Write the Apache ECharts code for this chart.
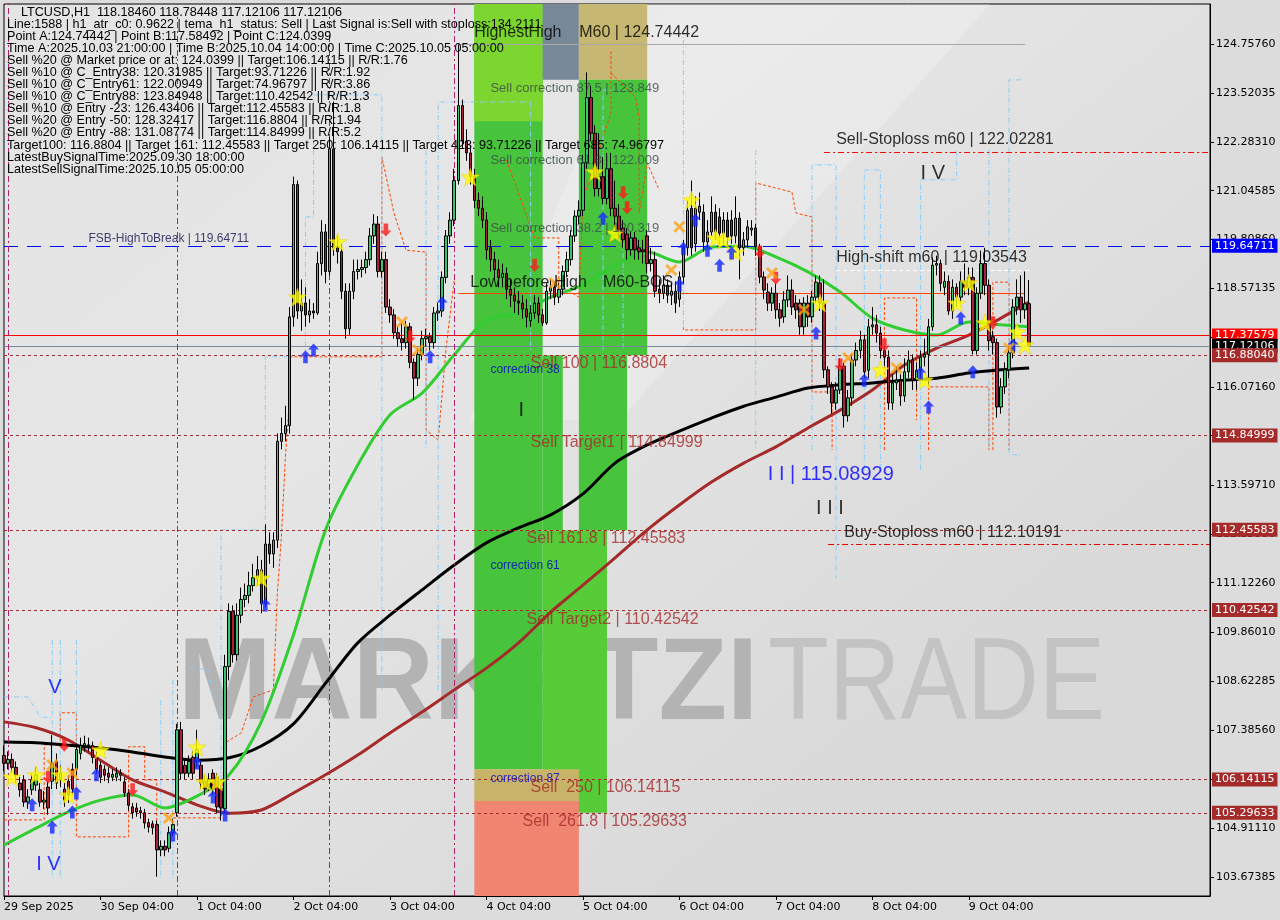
<!DOCTYPE html>
<html><head><meta charset="utf-8">
<script src="https://cdn.jsdelivr.net/npm/echarts@6/dist/echarts.min.js"></script>
<style>html,body{margin:0;padding:0;background:#dcdcdc}#c{width:1280px;height:920px}</style>
</head><body><div id="c"></div>
<script>
// ---------------- DATA ----------------
const startUTC = Date.UTC(2025, 8, 29, 4); // first bar 29 Sep 2025 04:00
const totalSlots = 301;                     // bars + empty space to the right
// [open, close, low, high]
const candles = [
[106.75,106.55,106.35,107.00],[106.55,106.65,106.40,106.85],[106.65,106.45,106.30,106.80],[106.45,106.25,106.05,106.60],
[106.05,105.88,105.70,106.20],[106.13,105.57,105.45,106.25],[105.57,105.70,105.40,105.90],[105.88,106.13,105.75,106.30],
[106.00,106.26,105.85,106.45],[105.88,105.57,105.45,106.05],[105.57,105.62,105.40,105.85],[105.95,105.42,105.25,106.10],
[106.10,106.55,105.90,107.27],[106.60,106.05,105.90,106.80],[106.13,106.30,105.95,106.50],[105.90,105.62,105.45,106.05],
[106.10,105.75,105.55,106.25],[106.40,105.90,105.75,106.55],[106.40,106.90,106.25,107.05],[106.80,107.00,106.65,107.20],
[107.00,107.05,106.85,107.25],[107.00,107.02,106.85,107.20],[107.00,106.70,106.55,107.10],[106.70,106.40,106.30,106.85],
[106.50,106.20,106.05,106.60],[106.40,106.25,106.10,106.50],[106.30,106.20,106.05,106.45],[106.20,106.27,106.10,106.40],
[106.20,106.30,106.10,106.45],[106.25,106.30,106.10,106.40],[106.08,105.80,105.70,106.20],[105.80,105.49,105.35,105.90],
[105.45,105.30,105.15,105.55],[105.42,105.32,105.20,105.55],[105.35,105.30,105.15,105.45],[105.30,105.04,104.90,105.40],
[105.05,104.94,104.80,105.15],[105.02,104.92,104.75,105.10],[105.00,104.36,103.68,105.10],[104.36,104.45,104.20,104.60],
[104.45,104.36,104.20,104.60],[104.40,104.80,104.30,104.95],[104.80,105.00,104.70,105.15],[105.30,107.40,105.20,107.55],
[107.40,106.30,106.15,107.60],[106.50,106.30,106.15,106.65],[106.30,106.60,106.20,106.75],[106.70,106.30,106.15,106.85],
[106.60,106.90,106.45,107.40],[106.50,106.05,105.90,106.65],[106.10,105.90,105.75,106.25],[105.95,106.15,105.85,106.30],
[106.30,105.90,105.75,106.40],[106.20,105.45,105.30,106.30],[105.90,105.42,105.10,106.00],[105.40,109.00,105.30,109.30],
[109.00,110.40,108.65,110.60],[110.40,109.30,109.10,110.55],[109.30,110.30,109.15,110.60],[110.30,110.70,110.10,111.00],
[110.70,110.80,110.50,111.10],[110.80,111.05,110.60,111.40],[111.05,111.25,110.90,111.60],[111.25,111.45,111.05,111.80],
[111.45,110.60,110.35,111.70],[110.60,112.10,110.50,112.60],[112.10,111.85,111.60,112.40],[111.85,112.20,111.50,112.40],
[112.20,114.70,112.00,114.90],[114.70,114.90,114.50,115.30],[114.90,115.10,114.70,115.60],[115.10,117.85,114.90,118.10],
[117.85,121.20,117.60,121.40],[121.20,118.00,117.80,121.30],[118.00,118.20,117.50,118.80],[118.20,117.90,117.60,118.60],
[117.90,118.00,117.70,118.30],[118.00,117.95,117.80,118.20],[117.95,119.20,117.90,119.50],[119.20,120.00,118.90,120.30],
[120.00,119.00,118.70,120.20],[119.00,122.10,118.90,122.40],[122.10,119.60,119.40,123.30],[119.60,119.50,119.20,119.90],
[119.50,118.50,118.30,119.70],[118.50,117.55,117.30,118.70],[117.55,118.50,117.40,118.70],[118.50,119.00,118.30,119.30],
[119.00,119.05,118.80,119.30],[119.05,119.10,118.85,119.30],[119.10,119.30,118.95,119.50],[119.30,119.90,119.15,120.10],
[119.90,120.20,119.70,120.45],[120.20,119.00,118.85,120.40],[119.00,119.30,118.85,119.50],[119.30,118.10,117.95,119.50],
[118.10,117.90,117.70,118.30],[117.90,117.45,117.30,118.05],[117.45,117.30,117.10,117.60],[117.30,117.20,117.00,117.70],
[117.20,117.60,117.05,117.75],[117.60,116.70,116.55,117.70],[116.70,116.30,115.75,116.80],[116.30,116.90,116.10,117.05],
[116.90,117.30,116.75,117.50],[117.30,117.35,117.10,117.55],[117.35,117.20,117.00,117.45],[117.20,117.95,117.05,118.10],
[117.95,118.00,117.75,118.20],[118.00,118.85,117.85,119.00],[118.85,119.90,118.70,120.05],[119.90,120.30,119.70,120.50],
[120.30,121.30,120.15,121.60],[121.30,123.20,121.20,124.74],[123.20,122.30,122.10,123.35],[122.30,122.00,121.80,122.60],
[122.00,121.40,121.20,122.20],[121.40,120.80,120.60,121.60],[120.80,120.60,120.40,121.00],[120.60,120.30,120.10,120.90],
[120.30,119.55,119.30,120.50],[119.60,119.30,119.00,119.80],[119.30,119.05,118.80,119.50],[119.05,118.85,118.60,119.30],
[118.85,118.95,118.60,119.20],[118.95,118.55,118.30,119.10],[118.55,118.40,118.10,118.80],[118.40,118.25,117.95,118.60],
[118.25,118.20,117.90,118.50],[118.20,118.05,117.80,118.40],[118.05,117.85,117.585,118.30],[117.75,117.95,117.60,118.15],
[117.95,118.20,117.80,118.40],[118.20,117.90,117.70,118.35],[117.90,117.70,117.62,118.05],[117.70,118.50,117.65,118.70],
[118.50,118.60,118.30,118.80],[118.60,118.35,118.15,118.75],[118.35,118.55,118.20,118.70],[118.55,119.00,118.40,119.15],
[119.00,119.30,118.85,119.50],[119.30,119.90,119.15,120.05],[119.90,120.40,119.75,120.55],[120.40,120.55,120.20,120.80],
[120.55,121.75,120.40,121.95],[121.75,123.40,121.60,124.04],[123.40,122.50,122.30,123.70],[122.50,121.10,120.90,122.70],
[121.10,121.40,120.90,122.50],[121.40,120.85,120.70,121.90],[120.85,121.60,120.70,122.00],[121.60,120.60,120.40,122.00],
[120.60,120.40,120.10,121.30],[120.40,120.00,119.80,120.70],[120.10,119.80,119.60,120.30],[119.95,119.55,119.30,120.10],
[119.55,119.85,119.40,120.00],[119.85,119.55,119.30,120.00],[119.60,119.50,119.30,119.80],[119.55,119.50,119.20,119.80],
[119.90,119.20,118.95,120.05],[119.20,119.30,119.00,119.60],[119.30,118.50,118.35,119.50],[118.55,118.45,118.20,118.80],
[118.45,118.65,118.30,118.90],[118.65,118.40,118.20,118.80],[118.40,118.50,118.15,118.70],[118.50,118.20,117.95,118.75],
[118.30,118.86,118.10,119.00],[118.86,119.60,118.70,119.80],[119.60,120.55,119.40,120.80],[120.60,119.60,119.40,121.30],
[119.70,120.60,119.50,120.90],[120.50,120.65,120.30,121.00],[120.50,119.75,119.50,120.70],[119.75,120.00,119.60,120.30],
[120.00,120.50,119.90,120.90],[120.50,120.00,119.80,120.70],[120.38,119.97,119.70,120.60],[119.97,120.30,119.70,120.50],
[120.30,119.87,119.60,120.50],[120.30,119.90,119.70,120.55],[119.90,120.35,119.70,120.90],[120.35,119.60,118.80,120.50],
[119.60,119.80,119.40,120.00],[119.80,120.13,119.60,120.30],[120.05,120.10,119.90,120.30],[120.10,119.62,119.40,120.20],
[119.62,118.86,118.70,119.70],[118.86,118.53,118.30,119.00],[118.48,118.20,118.00,118.70],[118.20,118.45,118.00,118.60],
[118.45,118.03,117.80,118.70],[118.03,117.82,117.60,118.20],[117.85,118.28,117.70,118.50],[118.28,118.53,118.10,118.90],
[118.53,118.10,117.90,118.80],[118.20,118.03,117.80,118.40],[118.20,117.60,117.40,118.30],[117.60,118.20,117.40,118.35],
[118.20,117.85,117.60,118.40],[117.85,118.35,117.70,118.50],[118.35,118.73,118.20,118.90],[118.71,118.20,118.00,118.90],
[118.20,116.51,116.30,118.80],[116.51,116.08,115.90,116.60],[116.08,115.67,115.40,116.20],[115.67,116.00,115.50,116.20],
[116.00,116.60,115.90,116.80],[116.60,115.35,115.05,116.70],[115.35,115.80,115.20,116.00],[115.80,116.76,115.60,116.90],
[116.76,117.00,116.60,117.20],[117.00,117.27,116.80,117.50],[117.27,116.46,116.30,117.40],[116.50,117.60,116.30,117.80],
[117.60,117.65,117.40,118.10],[117.65,117.44,117.20,117.90],[117.44,117.00,116.80,117.60],[117.00,116.83,116.60,117.10],
[116.83,115.67,115.50,117.00],[115.67,116.18,115.50,116.40],[116.18,116.25,116.00,116.60],[116.25,115.85,115.60,116.40],
[115.85,116.46,115.70,116.80],[116.46,116.76,116.30,117.00],[116.76,116.25,116.00,116.90],[116.25,116.50,116.00,116.70],
[116.50,116.83,116.30,117.00],[116.83,116.90,116.60,117.30],[116.90,117.60,116.10,117.80],[117.60,119.16,117.50,119.35],
[119.16,119.20,118.90,119.40],[119.20,118.70,118.50,119.30],[118.60,118.75,118.40,119.00],[118.75,118.00,117.90,118.90],
[118.00,118.60,117.80,118.80],[118.60,118.35,118.10,118.70],[118.35,118.75,118.20,119.00],[118.75,118.60,118.40,119.20],
[118.60,118.85,118.40,119.10],[118.85,117.00,116.90,119.10],[117.00,118.45,116.90,118.60],[118.45,119.20,118.30,119.53],
[119.20,118.65,118.40,119.60],[118.65,117.25,117.00,118.80],[117.35,117.20,116.90,117.50],[117.20,115.57,115.30,117.30],
[115.57,116.08,115.40,116.30],[116.08,116.51,115.90,116.70],[116.51,116.94,116.30,117.10],[116.94,118.10,116.80,118.30],
[118.10,118.35,117.90,118.80],[118.35,118.03,117.70,118.90],[118.03,118.18,117.80,119.00],[118.1846,117.12106,117.12106,118.78448]
];
// moving averages read every 8 bars (bars 0,8,...,248) plus last bar
const maStep = 8;
const greenMA = [104.48,104.91,105.32,105.62,105.75,105.42,105.72,106.26,107.60,109.80,112.46,114.10,115.37,115.92,116.89,117.77,117.95,118.35,118.66,119.16,119.49,119.24,119.62,119.64,119.37,118.99,118.48,117.82,117.52,117.39,117.72,117.65,117.60];
const blackMA = [107.09,107.07,107.01,106.94,106.84,106.71,106.63,106.69,106.99,107.55,108.58,109.60,110.30,110.94,111.57,112.13,112.51,112.84,113.37,114.15,114.61,114.96,115.29,115.59,115.82,116.05,116.13,116.18,116.25,116.30,116.43,116.51,116.56];
const brownMA = [107.60,107.45,107.14,106.63,106.13,105.83,105.50,105.29,105.37,105.80,106.26,106.76,107.32,107.85,108.41,108.96,109.60,110.38,111.06,111.75,112.46,113.09,113.67,114.15,114.56,115.04,115.49,116.00,116.63,117.06,117.39,117.82,118.23];

// channel indicator step lines: polylines of [bar, price]
const orangeChannel = [
  [[0,105.12],[10,105.12],[10,107.02],[14,107.02],[14,107.83],[18,107.83],[18,104.69],[31,104.69],[31,106.97],[35,106.97],[35,106.13],[38,106.13],[38,104.48]],
  [[42,105.17],[54,105.17],[55,107.07],[59,107.32],[62,108.23],[67,108.41],[68,110.86],[69,112.28],[70,114.30],[71,115.75],[71,116.84],[94,116.84],[94,121.90],[97,120.48],[100,119.54],[105,119.49],[105,114.99],[108,114.73],[110,117.09],[112,118.78]],
  [[125,121.82],[132,119.85],[138,119.85],[138,118.66],[143,118.35],[144,120.81],[151,123.01],[151,124.61]],
  [[151,124.02],[157,123.42],[158,122.91],[158,120.48],[160,121.74],[163,121.06]],
  [[169,117.60],[169,117.52],[187,117.52],[187,121.24],[196,121.01],[197,120.48],[201,120.38],[201,115.95],[206,115.95],[206,114.48]],
  [[219,114.48],[219,118.33],[227,118.33],[227,115.24]],
  [[230,114.48],[230,116.08],[245,116.08],[245,114.48]],
  [[246,114.48],[246,118.73],[250,118.73],[250,114.48]]
];
const cyanChannel = [
  [[0,108.23],[6,108.23],[9,107.72],[12,107.72]],
  [[12,109.67],[12,103.60]], [[14,109.67],[14,103.60]], [[18,109.67],[18,105.62]],
  [[39,108.15],[39,103.60]], [[42,108.66],[42,103.60]],
  [[46,108.99],[51,108.91],[52,108.15]],
  [[54,105.62],[54,112.46],[64,112.46]], [[65,112.46],[65,116.84],[71,116.84]],
  [[75,116.84],[75,120.38],[77,120.38],[77,123.47],[94,123.47],[94,108.41]],
  [[105,122.07],[105,114.48]],
  [[108,108.41],[108,123.29],[131,123.29],[131,117.01]],
  [[149,117.01],[149,123.59],[151,123.59]], [[154,119.97],[154,117.01]],
  [[169,125.11],[169,117.52]], [[187,122.07],[187,114.48]],
  [[201,114.48],[201,121.70],[207,121.70],[207,111.24]],
  [[214,113.98],[214,121.57],[218,121.57],[218,113.98]],
  [[228,113.98],[228,121.32],[237,121.32],[237,122.07]],
  [[245,122.07],[245,114.48]],
  [[253,123.85],[250,123.85],[250,114.36],[253,114.36]]
];

const yMin = 103.193, yMax = 125.770;
const yTickValues = [124.7576,123.52035,122.2831,121.04585,119.8086,118.57135,117.3341,116.0716,114.8596,113.5971,112.3598,111.1226,109.8601,108.62285,107.3856,106.14835,104.9111,103.67385];
const yLabelValues = yTickValues;
const xTickLabels = ['29 Sep 2025','30 Sep 04:00','1 Oct 04:00','2 Oct 04:00','3 Oct 04:00','4 Oct 04:00','5 Oct 04:00','6 Oct 04:00','7 Oct 04:00','8 Oct 04:00','9 Oct 04:00'];

const levelValues = [119.64711, 117.37579, 117.12106, 116.88040, 114.84999, 112.45583, 110.42542, 106.14115, 105.29633];
const levelColors = ['#0000ff','#ff0000','#778899','#a52a2a','#a52a2a','#a52a2a','#a52a2a','#a52a2a','#a52a2a'];
const levelBoxes  = ['#0000ff','#ff0000','#000000','#a52a2a','#a52a2a','#a52a2a','#a52a2a','#a52a2a','#a52a2a'];
const levelDash   = [[14,9],'solid','solid',[3,3],[3,3],[3,3],[3,3],[3,3],[3,3]];
// partial levels: [fromBar, toBar, value, colour, dash]
const partialLevels = [
  [113, 254, 124.74442, '#a8a8a8', 'solid'],
  [204, 300, 122.02281, '#ff0000', [6,3,2,3]],
  [207, 255, 119.03543, '#ffffff', [4,3]],
  [113, 254, 118.455,   '#ff4500', 'solid'],
  [205, 300, 112.10191, '#e00000', [6,3,2,3]]
];
const vLineBars = [1, 43, 81, 112];

const stars = [[2,106.20],[8,106.26],[14,106.26],[16,105.75],[24,106.89],[48,106.96],[50,106.08],[53,106.08],[64,111.24],[73,118.35],[83,119.75],[116,121.39],[147,121.52],[152,119.97],[171,120.81],[177,119.85],[179,119.80],[182,119.49],[203,118.20],[218,116.51],[229,116.25],[237,118.20],[240,118.71],[244,117.70],[252,117.47],[254,117.14]];
const upArrows = [[7,105.50],[12,104.94],[17,105.32],[18,105.80],[23,106.26],[42,104.74],[48,106.56],[52,105.70],[55,105.24],[65,110.56],[75,116.84],[77,117.01],[106,116.84],[109,118.20],[149,120.35],[168,118.66],[169,119.59],[172,120.30],[175,119.54],[178,119.16],[181,119.47],[202,117.44],[214,116.25],[228,116.43],[230,115.57],[238,117.82],[241,116.46],[251,117.14]];
const downArrows = [[11,106.20],[15,107.01],[32,105.88],[95,120.05],[101,117.34],[132,119.16],[154,120.99],[155,120.61],[188,119.49],[192,118.83],[208,116.63],[219,117.14],[246,117.70]];
const crosses = [[12,106.51],[17,106.30],[41,105.17],[99,117.72],[103,117.01],[137,118.71],[168,120.13],[166,119.04],[191,118.96],[199,118.03],[210,116.81],[222,116.56],[250,117.06]];

// zones: [fromBar, toBar, topPrice, bottomPrice, colour]
const zones = [
  [117, 134, 125.77, 106.40, '#48c43c'],
  [117, 134, 125.77, 122.80, '#7dd630'],
  [134, 139, 116.88, 112.45, '#48c43c'],
  [134, 143, 125.77, 123.85, '#778899'],
  [143, 160, 125.77, 123.85, '#c6b872'],
  [143, 160, 123.85, 116.88, '#48c43c'],
  [143, 155, 116.88, 112.45, '#48c43c'],
  [134, 150, 112.45, 105.30, '#55cc38'],
  [117, 143, 106.40, 105.60, '#c8b468'],
  [117, 143, 105.60, 103.193,'#f08672']
];

// annotation texts: [bar, price, text, colour, size]
const notes = [
  [21, 119.82, 'FSB-HighToBreak | 119.64711', '#10104a', 12],
  [117, 125.04, 'HighestHigh    M60 | 124.74442', '#000000', 16],
  [121, 123.64, 'Sell correction 87.5 | 123.849', '#3a4a4a', 13],
  [121, 121.82, 'Sell correction 61.8 | 122.009', '#3a4a4a', 13],
  [121, 120.10, 'Sell correction 38.2 | 120.319', '#3a4a4a', 13],
  [116, 118.71, 'Low before High', '#000000', 16],
  [149, 118.71, 'M60-BOS', '#000000', 16],
  [131, 116.66, 'Sell 100 | 116.8804', '#a52a2a', 16],
  [121, 116.51, 'correction 38', '#0000cc', 12],
  [128, 115.49, 'I', '#000000', 20],
  [131, 114.66, 'Sell Target1 | 114.84999', '#a52a2a', 16],
  [130, 112.23, 'Sell 161.8 | 112.45583', '#a52a2a', 16],
  [121, 111.55, 'correction 61', '#0000cc', 12],
  [130, 110.20, 'Sell Target2 | 110.42542', '#a52a2a', 16],
  [121, 106.15, 'correction 87', '#0000cc', 12],
  [131, 105.93, 'Sell  250 | 106.14115', '#a52a2a', 16],
  [129, 105.07, 'Sell  261.8 | 105.29633', '#a52a2a', 16],
  [207, 122.33, 'Sell-Stoploss m60 | 122.02281', '#000000', 16],
  [228, 121.49, 'I V', '#000000', 20],
  [207, 119.34, 'High-shift m60 | 119.03543', '#000000', 16],
  [190, 113.85, 'I I | 115.08929', '#0000ff', 20],
  [202, 112.99, 'I I I', '#000000', 20],
  [209, 112.38, 'Buy-Stoploss m60 | 112.10191', '#000000', 16],
  [11, 108.46, 'V', '#0000ff', 20],
  [8, 103.98, 'I V', '#0000ff', 20]
];

const headerLines = [
  '    LTCUSD,H1  118.18460 118.78448 117.12106 117.12106',
  'Line:1588 | h1_atr_c0: 0.9622 | tema_h1_status: Sell | Last Signal is:Sell with stoploss:134.2111',
  'Point A:124.74442 | Point B:117.58492 | Point C:124.0399',
  'Time A:2025.10.03 21:00:00 | Time B:2025.10.04 14:00:00 | Time C:2025.10.05 05:00:00',
  'Sell %20 @ Market price or at: 124.0399 || Target:106.14115 || R/R:1.76',
  'Sell %10 @ C_Entry38: 120.31985 || Target:93.71226 || R/R:1.92',
  'Sell %10 @ C_Entry61: 122.00949 || Target:74.96797 || R/R:3.86',
  'Sell %10 @ C_Entry88: 123.84948 || Target:110.42542 || R/R:1.3',
  'Sell %10 @ Entry -23: 126.43406 || Target:112.45583 || R/R:1.8',
  'Sell %20 @ Entry -50: 128.32417 || Target:116.8804 || R/R:1.94',
  'Sell %20 @ Entry -88: 131.08774 || Target:114.84999 || R/R:5.2',
  'Target100: 116.8804 || Target 161: 112.45583 || Target 250: 106.14115 || Target 423: 93.71226 || Target 685: 74.96797',
  'LatestBuySignalTime:2025.09.30 18:00:00',
  'LatestSellSignalTime:2025.10.05 05:00:00'
];

// ---------------- BUILD ----------------
const pad = n => String(n).padStart(2, '0');
const categories = [];
for (let i = 0; i < totalSlots; i++) {
  const d = new Date(startUTC + i * 3600000);
  categories.push(d.getUTCFullYear() + '.' + pad(d.getUTCMonth() + 1) + '.' + pad(d.getUTCDate()) + ' ' + pad(d.getUTCHours()) + ':00');
}
function maSeries(vals) {
  const out = new Array(candles.length).fill(null);
  vals.forEach((v, k) => { out[Math.min(k * maStep, candles.length - 1)] = v; });
  return out;
}
const FONT = 'DejaVu Sans';
const SANS = 'Liberation Sans';
const starPath = 'path://M12,0 L15,8.5 L24,8.8 L17,14.3 L19.5,23 L12,18 L4.5,23 L7,14.3 L0,8.8 L9,8.5 Z';
const upPath = 'path://M6,0 L12,6 L8.5,6 L8.5,13 L3.5,13 L3.5,6 L0,6 Z';
const downPath = 'path://M3.5,0 L8.5,0 L8.5,7 L12,7 L6,13 L0,7 L3.5,7 Z';
const xPath = 'path://M0,2 L2,0 L6,4 L10,0 L12,2 L8,6 L12,10 L10,12 L6,8 L2,12 L0,10 L4,6 Z';

const levelLines = levelValues.map((v, k) => ({
  yAxis: v,
  lineStyle: { color: levelColors[k], type: levelDash[k], width: 1 },
  label: {
    show: true, position: 'end', distance: 2,
    formatter: v.toFixed(5), color: '#ffffff', backgroundColor: levelBoxes[k],
    padding: [2, 3, 1, 3], fontFamily: FONT, fontSize: 11
  }
}));
const partialLines = partialLevels.map(p => [
  { coord: [p[0], p[2]], lineStyle: { color: p[3], type: p[4], width: 1 }, label: { show: false } },
  { coord: [p[1], p[2]], lineStyle: { color: p[3], type: p[4], width: 1 } }
]);
const vLines = vLineBars.map(b => ({ xAxis: b, lineStyle: { color: '#b0206e', type: [6,3,2,3], width: 1 }, label: { show: false } }));
const zoneAreas = zones.map(z => [
  { coord: [z[0], z[2]], itemStyle: { color: z[4], opacity: 1 } },
  { coord: [z[1], z[3]] }
]);
const channelSeries = []
  .concat(orangeChannel.map(pts => ({ type: 'line', data: pts, symbol: 'none', z: 3, silent: true,
    lineStyle: { color: '#ff4500', width: 1, type: [3, 2] } })))
  .concat(cyanChannel.map(pts => ({ type: 'line', data: pts, symbol: 'none', z: 3, silent: true,
    lineStyle: { color: '#87cefa', width: 1, type: [5, 2, 1, 2] } })));

const chart = echarts.init(document.getElementById('c'), null, { renderer: 'canvas' });
chart.setOption({
  animation: false,
  backgroundColor: '#dcdcdc',
  grid: { left: 4, right: 70, top: 4, bottom: 24, show: true,
    backgroundColor: { type: 'linear', x: 0, y: 0, x2: 0.6, y2: 1, colorStops: [
      { offset: 0, color: '#e4e4e4' }, { offset: 0.45, color: '#e6e6e6' }, { offset: 1, color: '#d9d9d9' } ] },
    borderColor: '#000', borderWidth: 1 },
  xAxis: {
    type: 'category', data: categories, boundaryGap: false,
    axisLine: { lineStyle: { color: '#000' } },
    axisTick: { show: true, length: 4, interval: (i) => i % 24 === 0 && i / 24 < xTickLabels.length, lineStyle: { color: '#000' } },
    axisLabel: {
      interval: (i) => i % 24 === 0 && i / 24 < xTickLabels.length,
      formatter: (v, i) => xTickLabels[i / 24],
      align: 'left', color: '#000', fontFamily: FONT, fontSize: 11, margin: 6
    },
    splitLine: { show: false }
  },
  yAxis: {
    type: 'value', position: 'right', min: yMin, max: yMax, scale: true,
    axisLine: { show: true, lineStyle: { color: '#000' } },
    axisTick: { show: true, length: 4, customValues: yTickValues, lineStyle: { color: '#000' } },
    axisLabel: { customValues: yLabelValues, formatter: v => v.toFixed(5), color: '#000', fontFamily: FONT, fontSize: 11, margin: 6 },
    splitLine: { show: false }
  },
  graphic: [
    { type: 'polygon', z: 1, silent: true, shape: { points: [[640,4],[990,4],[620,420],[470,420]] }, style: { fill: 'rgba(255,255,255,0.22)' } },
    { type: 'text', z: 1, x: 178, y: 687, scaleX: 0.96, silent: true,
      style: { text: 'MARKETZI', font: 'bold 117px "Liberation Sans"', fill: '#b3b3b3', verticalAlign: 'middle' } },
    { type: 'text', z: 1, x: 768, y: 687, scaleX: 0.85, silent: true,
      style: { text: 'TRADE', font: '117px "Liberation Sans"', fill: '#c3c3c3', verticalAlign: 'middle' } }
  ].concat(headerLines.map((t, k) => ({
    type: 'text', z: 100, left: 7, top: 6 + 12.05 * k, silent: true,
    style: { text: t, font: '12.6px "Liberation Sans"', fill: '#000' }
  }))),
  series: [
    { type: 'line', data: [], z: 1, silent: true, markArea: { silent: true, data: zoneAreas } }
  ].concat(channelSeries, [
    { type: 'line', data: maSeries(brownMA), connectNulls: true, smooth: 0.3, symbol: 'none', z: 4, lineStyle: { color: '#a52a2a', width: 3 } },
    { type: 'line', data: maSeries(blackMA), connectNulls: true, smooth: 0.3, symbol: 'none', z: 4, lineStyle: { color: '#000000', width: 3 } },
    { type: 'line', data: maSeries(greenMA), connectNulls: true, smooth: 0.3, symbol: 'none', z: 4, lineStyle: { color: '#32cd32', width: 3 } },
    { type: 'candlestick', data: candles, barWidth: 3, z: 5,
      itemStyle: { color: '#3cc36b', color0: '#a8203a', borderColor: '#000', borderColor0: '#000', borderWidth: 1 },
      markLine: { silent: true, symbol: ['none', 'none'], animation: false, data: levelLines.concat(partialLines, vLines) } },
    { type: 'scatter', data: stars, symbol: starPath, symbolSize: 18, z: 7, itemStyle: { color: '#ffff00', borderColor: '#e8c000', borderWidth: 0.5 } },
    { type: 'scatter', data: upArrows, symbol: upPath, symbolSize: [11, 13], z: 7, itemStyle: { color: '#1428ff' } },
    { type: 'scatter', data: downArrows, symbol: downPath, symbolSize: [11, 13], z: 7, itemStyle: { color: '#ff1a1a' } },
    { type: 'scatter', data: crosses, symbol: xPath, symbolSize: 12, z: 7, itemStyle: { color: '#ffa010' } },
    { type: 'scatter', data: notes.map(n => ({ value: [n[0], n[1]], label: { color: n[3], fontSize: n[4] } })),
      symbolSize: 0, z: 9, silent: true,
      label: { show: true, position: 'right', distance: 0, fontFamily: SANS, formatter: (p) => notes[p.dataIndex][2] } }
  ])
});
</script>
</body></html>
